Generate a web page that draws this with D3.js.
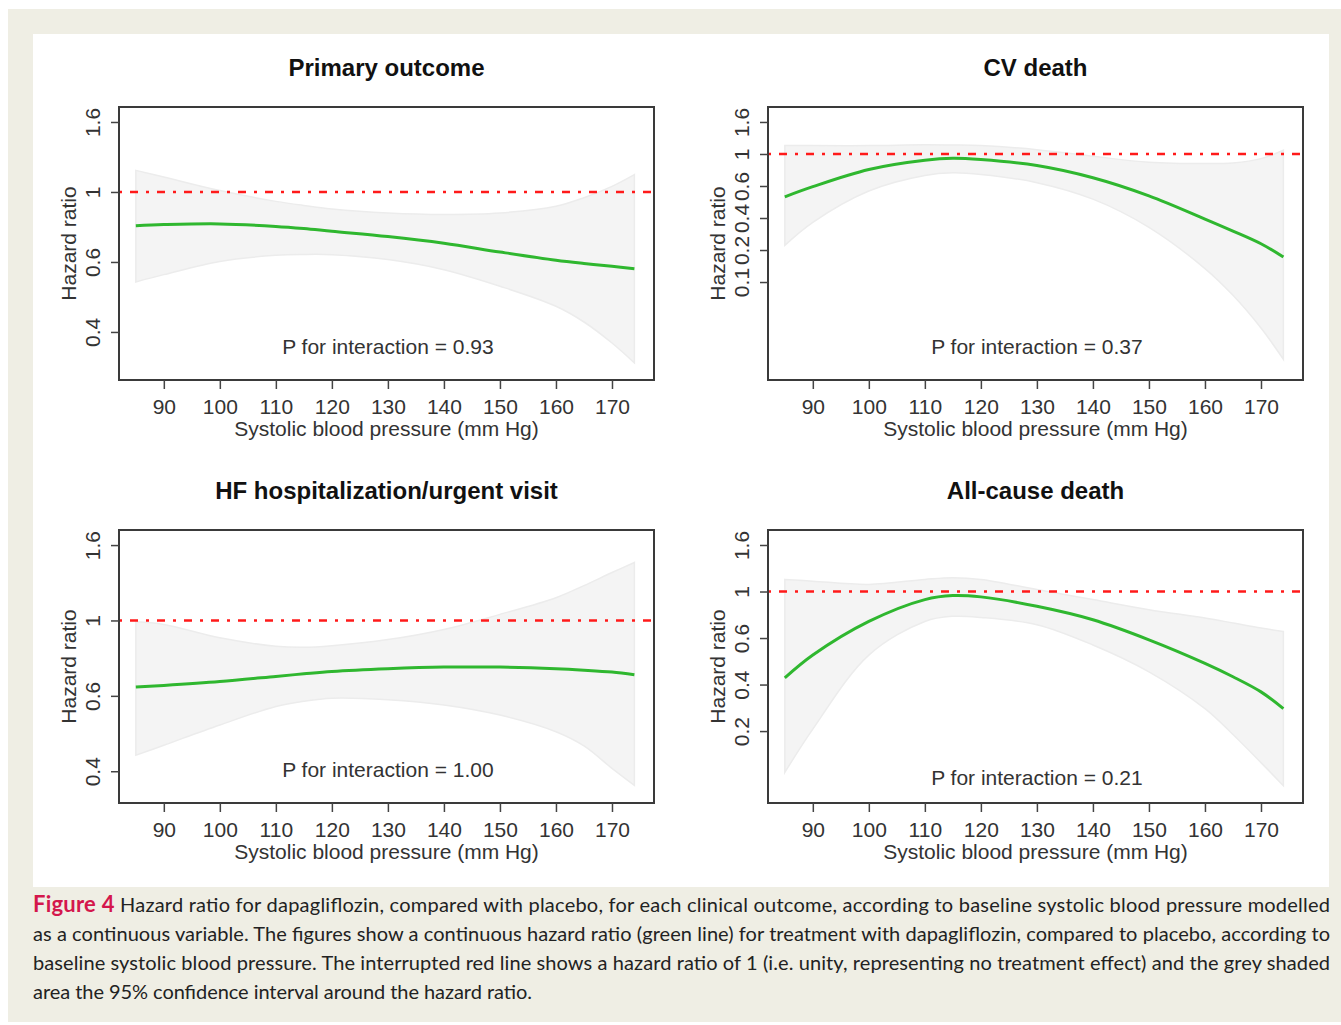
<!DOCTYPE html>
<html>
<head>
<meta charset="utf-8">
<script src="https://cdn.jsdelivr.net/npm/d3@7"></script>
<style>
body { margin: 0; background: #fff; }
text { font-family: "Liberation Sans", Arial, sans-serif; }
</style>
</head>
<body>
<div id="chart"></div>
<script>
// systolic blood pressure grid (mm Hg)
var sbp = [85, 90, 100, 110, 115, 120, 130, 140, 150, 160, 165, 170, 174];

var titles = ["Primary outcome", "CV death", "HF hospitalization/urgent visit", "All-cause death"];
var pValues = ["0.93", "0.37", "1.00", "0.21"];

// hazard ratio
var hrPrimary = [0.786, 0.792, 0.796, 0.782, 0.770, 0.755, 0.727, 0.693, 0.651, 0.614, 0.600, 0.588, 0.578];
var upPrimary = [1.167, 1.113, 1.010, 0.935, 0.908, 0.886, 0.861, 0.852, 0.861, 0.903, 0.960, 1.041, 1.132];
var loPrimary = [0.526, 0.554, 0.609, 0.636, 0.640, 0.639, 0.617, 0.574, 0.510, 0.442, 0.395, 0.340, 0.295];

var hrCV = [0.512, 0.600, 0.785, 0.907, 0.935, 0.916, 0.835, 0.690, 0.520, 0.362, 0.300, 0.246, 0.200];
var upCV = [1.140, 1.140, 1.140, 1.155, 1.150, 1.140, 1.070, 0.965, 0.879, 0.861, 0.870, 0.930, 1.060];
var loCV = [0.240, 0.344, 0.561, 0.715, 0.745, 0.726, 0.639, 0.494, 0.318, 0.167, 0.110, 0.066, 0.0405];

var hrHF = [0.643, 0.650, 0.667, 0.690, 0.702, 0.713, 0.726, 0.734, 0.734, 0.726, 0.719, 0.710, 0.698];
var upHF = [0.991, 0.974, 0.891, 0.843, 0.837, 0.846, 0.881, 0.942, 1.041, 1.163, 1.260, 1.374, 1.469];
var loHF = [0.409, 0.437, 0.500, 0.565, 0.585, 0.597, 0.591, 0.571, 0.534, 0.478, 0.435, 0.375, 0.335];

var hrAll = [0.395, 0.505, 0.725, 0.917, 0.958, 0.944, 0.853, 0.738, 0.595, 0.462, 0.400, 0.340, 0.284];
var upAll = [1.139, 1.118, 1.079, 1.139, 1.160, 1.139, 1.022, 0.917, 0.823, 0.752, 0.713, 0.675, 0.651];
var loAll = [0.143, 0.228, 0.505, 0.725, 0.766, 0.757, 0.700, 0.563, 0.422, 0.284, 0.215, 0.159, 0.124];

// y axis runs on log(HR); ticks sit at log(HR) steps of 0.5
var yLims = [[0.261, 1.835], [0.0293, 2.083], [0.298, 1.822], [0.103, 1.937]];
var yTickLogs = [[-1, -0.5, 0, 0.5], [-2, -1.5, -1, -0.5, 0, 0.5], [-1, -0.5, 0, 0.5], [-1.5, -1, -0.5, 0, 0.5]];
var xTicks = [90, 100, 110, 120, 130, 140, 150, 160, 170];

var captionLines = [
    "Hazard ratio for dapagliflozin, compared with placebo, for each clinical outcome, according to baseline systolic blood pressure modelled",
    "as a continuous variable. The figures show a continuous hazard ratio (green line) for treatment with dapagliflozin, compared to placebo, according to",
    "baseline systolic blood pressure. The interrupted red line shows a hazard ratio of 1 (i.e. unity, representing no treatment effect) and the grey shaded",
    "area the 95% confidence interval around the hazard ratio."
];

var series = [
    {hr: hrPrimary, up: upPrimary, lo: loPrimary},
    {hr: hrCV, up: upCV, lo: loCV},
    {hr: hrHF, up: upHF, lo: loHF},
    {hr: hrAll, up: upAll, lo: loAll}
];

var width = 1341, height = 1025;
var boxW = 535, boxH = 273;
var origins = [[119, 107], [768, 107], [119, 530], [768, 530]];
var fs = 21;

var svg = d3.select("#chart")
    .append("svg")
    .attr("width", width)
    .attr("height", height);

svg.append("rect").attr("x", 8).attr("y", 9).attr("width", 1333).attr("height", 1013).attr("fill", "#efeee4");
svg.append("rect").attr("x", 33).attr("y", 34).attr("width", 1296).attr("height", 853).attr("fill", "#fff");

var x = d3.scaleLinear().domain([82, 177.5]).range([0, boxW]);

series.forEach(function(s, i) {
    var g = svg.append("g")
        .attr("transform", "translate(" + origins[i][0] + "," + origins[i][1] + ")");

    var y = d3.scaleLog().domain(yLims[i]).range([boxH, 0]);

    var rows = sbp.map(function(v, k) {
        return {sbp: v, hr: s.hr[k], up: s.up[k], lo: s.lo[k]};
    });

    var area = d3.area()
        .x(function(d) { return x(d.sbp) })
        .y0(function(d) { return y(d.lo) })
        .y1(function(d) { return y(d.up) })
        .curve(d3.curveCatmullRom);

    g.append("path")
        .datum(rows)
        .attr("d", area)
        .attr("fill", "#f4f4f4")
        .attr("stroke", "#ececec")
        .attr("stroke-width", 1.5);

    g.append("line")
        .attr("x1", 0).attr("x2", boxW)
        .attr("y1", y(1)).attr("y2", y(1))
        .attr("stroke", "#ff1a1a")
        .attr("stroke-width", 2.5)
        .attr("stroke-dasharray", "3,8,8,8");

    var line = d3.line()
        .x(function(d) { return x(d.sbp) })
        .y(function(d) { return y(d.hr) })
        .curve(d3.curveCatmullRom);

    g.append("path")
        .datum(rows)
        .attr("d", line)
        .attr("fill", "none")
        .attr("stroke", "#2fb72f")
        .attr("stroke-width", 3);

    g.append("rect")
        .attr("width", boxW).attr("height", boxH)
        .attr("fill", "none")
        .attr("stroke", "#3a3a3a")
        .attr("stroke-width", 2);

    var xAxis = g.append("g")
        .attr("transform", "translate(0," + boxH + ")")
        .call(d3.axisBottom(x).tickValues(xTicks).tickSize(9).tickPadding(10));
    xAxis.select(".domain").remove();
    xAxis.selectAll("line").attr("stroke", "#444").attr("stroke-width", 1.5);
    xAxis.selectAll("text").attr("font-size", fs).attr("fill", "#333")
        .style("font-family", "'Liberation Sans', Arial, sans-serif");

    var yTicks = yTickLogs[i].map(function(v) { return Math.exp(v) });
    var yAxis = g.append("g")
        .call(d3.axisLeft(y).tickValues(yTicks).tickSize(8)
            .tickFormat(function(v) { return String(+v.toFixed(1)) }));
    yAxis.select(".domain").remove();
    yAxis.selectAll("line").attr("stroke", "#444").attr("stroke-width", 1.5);
    yAxis.selectAll("text")
        .attr("font-size", fs).attr("fill", "#333")
        .attr("text-anchor", "middle")
        .attr("x", null).attr("dy", null)
        .attr("transform", "translate(-27,0) rotate(-90)")
        .attr("dominant-baseline", "central")
        .style("font-family", "'Liberation Sans', Arial, sans-serif");

    g.append("text")
        .attr("x", boxW / 2).attr("y", -31)
        .attr("text-anchor", "middle")
        .attr("font-size", 24).attr("font-weight", "bold").attr("fill", "#111")
        .text(titles[i]);

    g.append("text")
        .attr("x", boxW / 2).attr("y", boxH + 56)
        .attr("text-anchor", "middle")
        .attr("font-size", fs).attr("fill", "#333")
        .text("Systolic blood pressure (mm Hg)");

    g.append("text")
        .attr("transform", "translate(-43," + (boxH / 2) + ") rotate(-90)")
        .attr("text-anchor", "middle")
        .attr("font-size", fs).attr("fill", "#333")
        .text("Hazard ratio");

    g.append("text")
        .attr("x", x(130)).attr("y", boxH - (i == 3 ? 18 : 26))
        .attr("text-anchor", "middle")
        .attr("font-size", fs).attr("fill", "#333")
        .text("P for interaction = " + pValues[i]);
});

// caption
var capFont = "Lato, 'Open Sans', sans-serif";
var baselines = [912, 941, 970, 999];
captionLines.forEach(function(t, k) {
    var txt = svg.append("text")
        .attr("x", 33).attr("y", baselines[k])
        .attr("font-size", 20).attr("fill", "#222")
        .style("font-family", capFont);
    if (k == 0) {
        txt.append("tspan").attr("font-weight", "bold").attr("fill", "#d4174c")
            .attr("font-size", 22).text("Figure 4");
        txt.append("tspan").text(" " + t);
    } else {
        txt.text(t);
    }
    txt.attr("textLength", k < 3 ? 1297 : 499).attr("lengthAdjust", "spacing");
});
</script>
</body>
</html>
